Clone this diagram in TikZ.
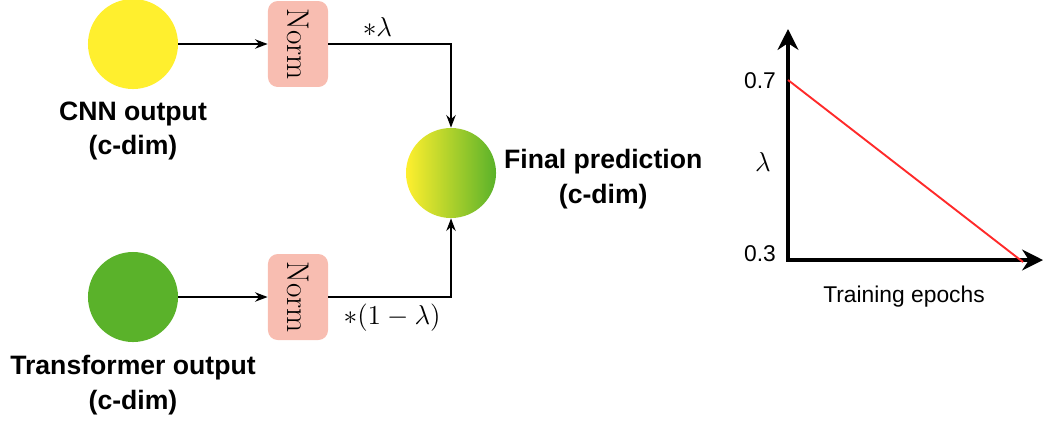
\documentclass[tikz,border=0pt]{standalone}
\usepackage{fontspec}
\newfontfamily\labelfont{Liberation Sans}
\usetikzlibrary{arrows.meta,positioning}

\definecolor{cnnyellow}{HTML}{FFEF2E}
\definecolor{trfgreen}{HTML}{5AB22A}
\definecolor{normpink}{HTML}{F8BDB1}
\definecolor{lamred}{HTML}{FF2A2A}

\begin{document}
\begin{tikzpicture}[
  x=0.0185cm, y=-0.0185cm,
  >=Stealth,
  feat/.style={circle, minimum size=1.665cm, inner sep=0pt},
  normbox/.style={fill=normpink, rounded corners=0.18cm, rotate=-90, inner sep=1pt, minimum width=1.59cm, minimum height=1.11cm, font=\fontsize{16.5}{20}\selectfont},
  caption/.style={align=center, font=\labelfont\bfseries\fontsize{14}{18}\selectfont},
  wire/.style={->, line width=0.8pt},
  axis/.style={{Stealth[length=11pt,width=11pt]}-{Stealth[length=11pt,width=11pt]}, line width=2.2pt},
  tick/.style={font=\labelfont\fontsize{12}{14}\selectfont},
]
\useasboundingbox (0,0) rectangle (1044,421);

% Two branch outputs, each normalised before fusion
\node[feat, fill=cnnyellow] (cnn) at (133,44)  {};
\node[feat, fill=trfgreen]  (trf) at (133,297) {};
\node[normbox] (normtop) at (298,44)  {Norm};
\node[normbox] (normbot) at (298,297) {Norm};

\node[caption, below=0.1cm of cnn] (cnncap) {CNN output\\(c-dim)};
\node[caption, below=0.12cm of trf] (trfcap) {Transformer output\\(c-dim)};

% Fused prediction
\node[feat, left color=cnnyellow, right color=trfgreen] (fin) at (451,173) {};
\node[caption, right=0.02cm of fin, yshift=-3.2pt] (fincap) {Final prediction\\(c-dim)};

% Wires
\draw[wire] (cnn) -- (normtop);
\draw[wire] (trf) -- (normbot);
\draw[wire] (normtop) -| node[pos=0.2, above, font=\fontsize{14}{17}\selectfont] {$*\lambda$} (fin);
\draw[wire] (normbot) -| node[pos=0.26, below, font=\fontsize{14}{17}\selectfont] {$*(1-\lambda)$} (fin);

% Schedule of lambda over training
\coordinate (org)   at (788,260);
\coordinate (ytop)  at (788,29);
\coordinate (xend)  at (1043,260);
\coordinate (lamhi) at (788,80);
\coordinate (lamlo) at (1023,262);
\draw[axis] (ytop) -- (org) -- (xend);
\draw[lamred, line width=1pt] (lamhi) -- (lamlo);

\node[tick] (hi)  at (760,81)  {0.7};
\node[tick] (lo)  at (760,254) {0.3};
\node[font=\fontsize{15}{17}\selectfont] (lam) at (763,162) {$\lambda$};
\node[tick] (epochs) at (904,297) {Training epochs};

\end{tikzpicture}
\end{document}
